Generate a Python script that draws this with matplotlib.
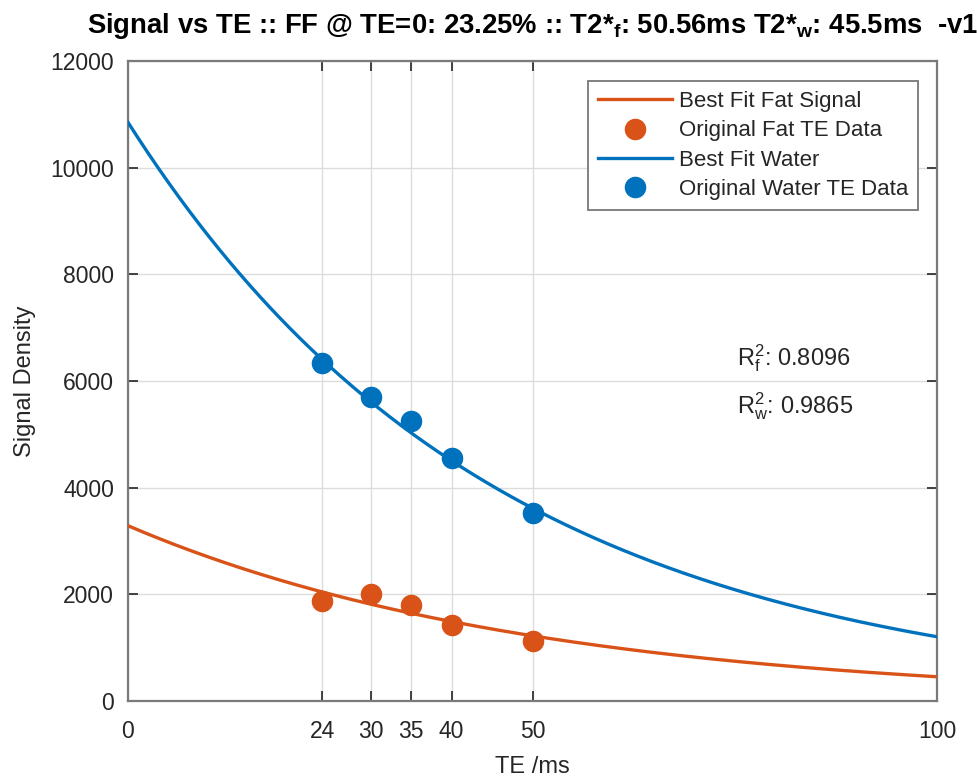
import numpy as np
import matplotlib
matplotlib.use("Agg")
import matplotlib.pyplot as plt
from matplotlib import font_manager

# Echo times (ms) and measured signal densities
te = [24, 30, 35, 40, 50]
fat_signal = [1875, 2000, 1800, 1425, 1120]
water_signal = [6345, 5700, 5250, 4560, 3520]

# Fit results
fat_fraction = 23.25        # % at TE=0
t2s_fat = 50.56             # ms
t2s_water = 45.5            # ms
s0_water = 10850.0
r2_fat = 0.8096
r2_water = 0.9865

x_ticks = [0, 24, 30, 35, 40, 50, 100]
y_ticks = [0, 2000, 4000, 6000, 8000, 10000, 12000]

BLUE = "#0072BD"
ORANGE = "#D95319"
TEXT = "#262626"
AXIS = "#7a7a7a"

installed = {f.name for f in font_manager.fontManager.ttflist}
base = "Liberation Sans"
narrow = "Liberation Sans Narrow" if "Liberation Sans Narrow" in installed else base

plt.rcParams["font.family"] = [base, "DejaVu Sans"]
plt.rcParams["mathtext.fontset"] = "custom"
plt.rcParams["mathtext.rm"] = base
plt.rcParams["mathtext.it"] = base
plt.rcParams["mathtext.bf"] = f"{narrow}:bold"

fig = plt.figure(figsize=(9.78, 7.78), dpi=100)
ax = fig.add_axes([128 / 978, 77 / 778, 809 / 978, 640 / 778])

# Mono-exponential fits: S(TE) = S0 * exp(-TE / T2*)
s0_fat = fat_fraction / (100 - fat_fraction) * s0_water
te_fit = np.linspace(0, 100, 400)
fat_fit = s0_fat * np.exp(-te_fit / t2s_fat)
water_fit = s0_water * np.exp(-te_fit / t2s_water)

ax.plot(te_fit, fat_fit, color=ORANGE, lw=2.4, label="Best Fit Fat Signal", zorder=3)
ax.plot(te, fat_signal, "o", color=ORANGE, ms=14.5, mec=ORANGE, label="Original Fat TE Data", zorder=4)
ax.plot(te_fit, water_fit, color=BLUE, lw=2.4, label="Best Fit Water", zorder=3)
ax.plot(te, water_signal, "o", color=BLUE, ms=14.5, mec=BLUE, label="Original Water TE Data", zorder=4)

ax.set_xlim(0, 100)
ax.set_ylim(0, 12000)
ax.set_xticks(x_ticks)
ax.set_yticks(y_ticks)
ax.grid(True, color="#dcdcdc", lw=1.0, zorder=0)
ax.set_axisbelow(True)

for s in ax.spines.values():
    s.set_color(AXIS)
    s.set_linewidth(1.6)
ax.tick_params(direction="in", length=7, width=1.3, color="#333333",
               top=True, right=True, labelsize=16.5, labelcolor=TEXT)
ax.tick_params(axis="x", pad=14)
ax.tick_params(axis="y", pad=10)

ax.set_xlabel("TE /ms", fontsize=17, color=TEXT, labelpad=9)
ax.set_ylabel("Signal Density", fontsize=17, color=TEXT, labelpad=10)

title = ax.set_title(
    f"Signal vs TE :: FF @ TE=0: {fat_fraction:.2f}% :: "
    f"T2*$_{{\\mathbf{{f}}}}$: {t2s_fat:.2f}ms T2*$_{{\\mathbf{{w}}}}$: {t2s_water:g}ms  -v1",
    fontsize=19.8, fontweight="bold", family=[narrow, "DejaVu Sans"], color="black", pad=20)

leg = ax.legend(loc="upper right", bbox_to_anchor=(0.9765, 0.969), fontsize=16,
                frameon=True, fancybox=False, edgecolor="#777777", framealpha=1,
                handlelength=3.3, handletextpad=0.32, labelspacing=0.38,
                borderpad=0.45, borderaxespad=0.0)
leg.get_frame().set_linewidth(1.3)
for t in leg.get_texts():
    t.set_color(TEXT)

ax.text(75.3, 6300, f"R$_{{\\rm f}}^{{2}}$: {r2_fat:.4f}", fontsize=17, color=TEXT, va="baseline")
ax.text(75.3, 5400, f"R$_{{\\rm w}}^{{2}}$: {r2_water:.4f}", fontsize=17, color=TEXT, va="baseline")

fig.savefig("out.png", dpi=100, facecolor="white")
